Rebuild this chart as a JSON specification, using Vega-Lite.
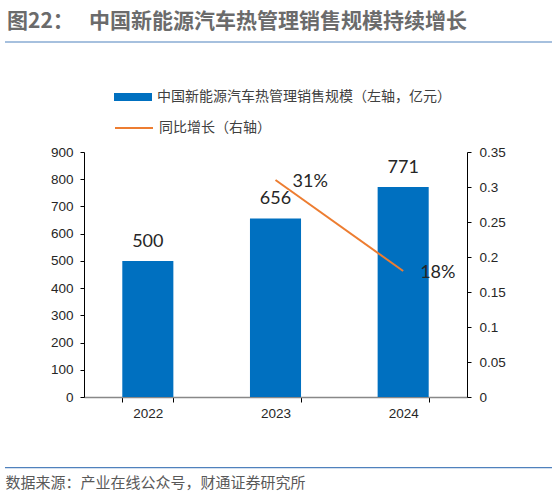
{
  "$schema": "https://vega.github.io/schema/vega-lite/v6.json",
  "width": 383,
  "height": 245,
  "autosize": {"type": "none"},
  "padding": {"left": 84, "top": 152, "right": 90, "bottom": 96},
  "background": "white",
  "title": {
    "text": "图22：　 中国新能源汽车热管理销售规模持续增长",
    "anchor": "start",
    "frame": "group",
    "dx": -77,
    "offset": 9,
    "font": "Noto Sans CJK SC",
    "fontSize": 21,
    "fontWeight": "bold",
    "color": "#6b6b6b"
  },
  "data": {
    "values": [
      {"year": "2022", "sales": 500, "yoy": null},
      {"year": "2023", "sales": 656, "yoy": 0.31},
      {"year": "2024", "sales": 771, "yoy": 0.18}
    ]
  },
  "layer": [
    {
      "encoding": {
        "x": {
          "field": "year",
          "type": "ordinal",
          "scale": {"paddingInner": 0.6, "paddingOuter": 0.3},
          "axis": {
            "title": "数据来源：产业在线公众号，财通证券研究所",
            "titleX": -79,
            "titleY": 85,
            "titleAlign": "left",
            "titleBaseline": "middle",
            "titleFont": "Noto Sans CJK SC",
            "titleFontSize": 15,
            "titleFontWeight": "normal",
            "titleColor": "#595959",
            "labelAngle": 0,
            "tickBand": "extent",
            "tickSize": 5,
            "tickColor": "#000000",
            "domainColor": "#888888",
            "domainWidth": 1.5,
            "labelPadding": 4,
            "labelFont": "Liberation Sans",
            "labelFontSize": 13.5,
            "labelColor": "#262626"
          }
        },
        "y": {
          "field": "sales",
          "type": "quantitative",
          "scale": {"domain": [0, 900], "nice": false},
          "axis": {
            "title": null,
            "orient": "left",
            "values": [0, 100, 200, 300, 400, 500, 600, 700, 800, 900],
            "grid": false,
            "domainColor": "#000000",
            "tickColor": "#000000",
            "tickSize": 4,
            "labelPadding": 7,
            "labelFont": "Liberation Sans",
            "labelFontSize": 13.5,
            "labelColor": "#262626"
          }
        }
      },
      "layer": [
        {
          "mark": {"type": "bar"},
          "encoding": {
            "fill": {
              "datum": "中国新能源汽车热管理销售规模（左轴，亿元）",
              "type": "nominal",
              "scale": {"range": ["#0070C0"]},
              "legend": {
                "orient": "none",
                "legendX": 30,
                "legendY": -74,
                "title": null,
                "padding": 0,
                "symbolType": "M-1,-0.21H1V0.21H-1Z",
                "symbolSize": 1444,
                "symbolStrokeWidth": 0,
                "labelOffset": 5,
                "labelFont": "Noto Sans CJK SC",
                "labelFontSize": 14,
                "labelColor": "#404040",
                "labelLimit": 400
              }
            }
          }
        },
        {
          "mark": {"type": "text", "baseline": "middle", "dy": -19, "font": "Lato", "fontSize": 18, "color": "#262626"},
          "encoding": {"text": {"field": "sales", "type": "quantitative"}}
        }
      ]
    },
    {
      "transform": [{"filter": "datum.yoy != null"}],
      "encoding": {
        "x": {
          "field": "year",
          "type": "ordinal",
          "scale": {"domain": ["2022", "2023", "2024"], "paddingInner": 0.6, "paddingOuter": 0.3},
          "axis": null
        },
        "y": {
          "field": "yoy",
          "type": "quantitative",
          "scale": {"domain": [0, 0.35], "nice": false},
          "axis": {
            "title": null,
            "orient": "right",
            "values": [0, 0.05, 0.1, 0.15, 0.2, 0.25, 0.3, 0.35],
            "format": ".2~f",
            "grid": false,
            "domainColor": "#000000",
            "tickColor": "#000000",
            "tickSize": 4,
            "labelPadding": 8,
            "labelFont": "Liberation Sans",
            "labelFontSize": 13.5,
            "labelColor": "#262626"
          }
        }
      },
      "layer": [
        {
          "mark": {"type": "line", "strokeWidth": 2},
          "encoding": {
            "stroke": {
              "datum": "同比增长（右轴）",
              "type": "nominal",
              "scale": {"range": ["#ED7D31"]},
              "legend": {
                "orient": "none",
                "legendX": 30,
                "legendY": -44,
                "title": null,
                "padding": 0,
                "symbolType": "stroke",
                "symbolSize": 1444,
                "symbolStrokeWidth": 2,
                "labelOffset": 5,
                "labelFont": "Noto Sans CJK SC",
                "labelFontSize": 14,
                "labelColor": "#404040",
                "labelLimit": 400
              }
            }
          }
        },
        {
          "mark": {"type": "text", "align": "left", "baseline": "middle", "dx": 17, "dy": 2, "font": "Lato", "fontSize": 18, "color": "#262626"},
          "encoding": {"text": {"field": "yoy", "type": "quantitative", "format": ".0%"}}
        }
      ]
    },
    {
      "data": {"values": [{}]},
      "layer": [
        {
          "mark": {"type": "rule", "color": "#4f81bd", "strokeWidth": 1.2},
          "encoding": {
            "x": {"datum": -0.2063, "type": "quantitative", "scale": {"domain": [0, 1], "nice": false, "zero": false}, "axis": null},
            "x2": {"datum": 1.2219},
            "y": {"datum": 1.449, "type": "quantitative", "scale": {"domain": [0, 1], "nice": false, "zero": false}, "axis": null}
          }
        },
        {
          "mark": {"type": "rule", "color": "#4f81bd", "strokeWidth": 1.2},
          "encoding": {
            "x": {"datum": -0.2063, "type": "quantitative", "axis": null},
            "x2": {"datum": 1.2219},
            "y": {"datum": -0.2886, "type": "quantitative", "axis": null}
          }
        }
      ]
    }
  ],
  "resolve": {"scale": {"x": "independent", "y": "independent"}},
  "config": {
    "view": {"stroke": null},
    "axis": {"grid": false}
  }
}
